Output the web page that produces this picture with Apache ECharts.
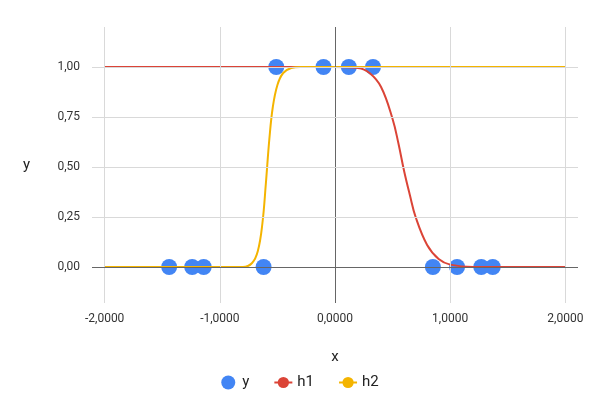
<!DOCTYPE html>
<html><head><meta charset="utf-8">
<script src="https://cdn.jsdelivr.net/npm/echarts@6/dist/echarts.min.js"></script>
<style>html,body{margin:0;padding:0;background:#fff}#c{width:600px;height:417px}</style>
</head><body><div id="c"></div>
<script>
const xTicks = [-2, -1, 0, 1, 2];
const yTicks = [0, 0.25, 0.5, 0.75, 1];
const pointsX = [-1.44, -1.24, -1.14, -0.62, -0.51, -0.1, 0.12, 0.33, 0.85, 1.06, 1.27, 1.37];
const pointsY = [0, 0, 0, 0, 1, 1, 1, 1, 0, 0, 0, 0];
const h1X = [-2, 0, 0.2, 0.3, 0.4, 0.5, 0.55, 0.6, 0.65, 0.7, 0.8, 0.9, 1.0, 1.2, 2];
const h1Y = [1, 1, 0.995, 0.97, 0.9, 0.74, 0.62, 0.48, 0.36, 0.25, 0.11, 0.04, 0.012, 0, 0];
const h2X = [-2, -0.8, -0.72, -0.67, -0.63, -0.6, -0.57, -0.54, -0.5, -0.45, -0.38, -0.3, 2];
const h2Y = [0, 0, 0.02, 0.08, 0.22, 0.42, 0.64, 0.8, 0.91, 0.97, 0.995, 1, 1];
const zip = (a, b) => a.map((v, i) => [v, b[i]]);
const fmt = (v, d) => v.toFixed(d).replace('.', ',');
const grey = '#d9d9d9', dark = '#666';
const lines = [
  ...xTicks.map(v => ({xAxis: v, lineStyle: {color: v === 0 ? dark : grey, width: 1, type: 'solid'}})),
  ...yTicks.map(v => ({yAxis: v, lineStyle: {color: v === 0 ? dark : grey, width: 1, type: 'solid'}}))
];
const chart = echarts.init(document.getElementById('c'));
chart.setOption({
  animation: false,
  textStyle: {fontFamily: 'Roboto, Arial, sans-serif'},
  grid: {left: 92, right: 22, top: 27, bottom: 114},
  xAxis: {type: 'value', min: -2.11, max: 2.11, name: 'x', nameLocation: 'middle', nameGap: 47,
    nameTextStyle: {fontSize: 15, color: '#222'},
    axisLine: {show: false}, axisTick: {show: false}, splitLine: {show: false},
    axisLabel: {customValues: xTicks, formatter: v => fmt(v, 4), color: '#333', fontSize: 12, margin: 10}},
  yAxis: {type: 'value', min: -0.18, max: 1.2, name: 'y', nameLocation: 'middle', nameGap: 62, nameRotate: 0,
    nameTextStyle: {fontSize: 15, color: '#222', padding: [14, 0, 0, 0]},
    axisLine: {show: false}, axisTick: {show: false}, splitLine: {show: false},
    axisLabel: {customValues: yTicks, formatter: v => fmt(v, 2), color: '#333', fontSize: 12, margin: 12}},
  legend: {bottom: 22, itemGap: 24, textStyle: {fontSize: 15, color: '#222'},
    data: [{name: 'y', icon: 'circle'}, {name: 'h1'}, {name: 'h2'}],
    itemWidth: 18, itemHeight: 14},
  series: [
    {name: 'grid', type: 'line', data: [], silent: true,
      markLine: {symbol: 'none', silent: true, label: {show: false}, data: lines}},
    {name: 'h1', type: 'line', smooth: 0.4, symbol: 'none', data: zip(h1X, h1Y),
      lineStyle: {color: '#db4437', width: 2}, itemStyle: {color: '#db4437'}},
    {name: 'h2', type: 'line', smooth: 0.4, symbol: 'none', data: zip(h2X, h2Y),
      lineStyle: {color: '#f4b400', width: 2}, itemStyle: {color: '#f4b400'}},
    {name: 'y', type: 'scatter', symbolSize: 16, data: zip(pointsX, pointsY),
      itemStyle: {color: '#4285f4', opacity: 1}}
  ]
});
</script></body></html>
